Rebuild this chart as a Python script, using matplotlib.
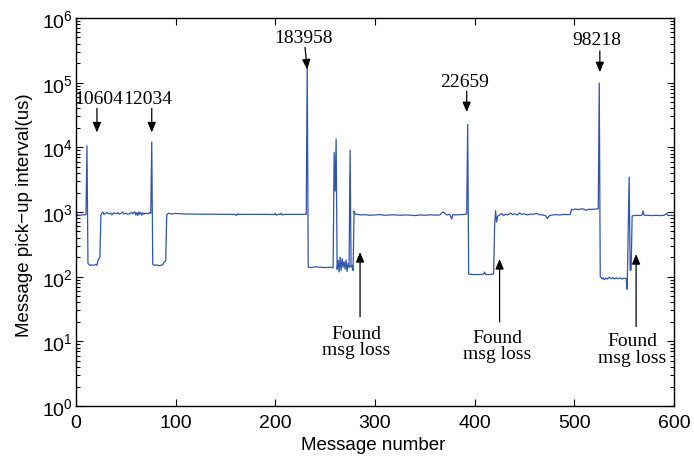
import numpy as np
import matplotlib
matplotlib.use("Agg")
import matplotlib.pyplot as plt
from matplotlib.ticker import LogLocator, LogFormatterMathtext, NullFormatter

plt.rcParams['font.family'] = ['Liberation Sans', 'DejaVu Sans']
plt.rcParams['mathtext.fontset'] = 'custom'
plt.rcParams['mathtext.rm'] = 'Liberation Sans'
plt.rcParams['mathtext.it'] = 'Liberation Sans'

# message number / pick-up interval (us)
msg = [0, 2, 4, 6, 8, 10, 11,
       12, 14, 16, 18, 20, 21, 22, 23, 24, 25,
       26, 27, 28, 30, 31, 33, 35, 36, 38, 40, 42, 43, 45, 47, 48, 50, 52, 54, 56, 57,
       59, 60, 61, 62, 63, 64, 65, 66, 67, 68, 70, 72, 74, 75, 76,
       77, 79, 81, 83, 85, 87, 88, 89, 90, 91,
       93, 96, 100, 105, 110, 118, 125, 135, 145, 155, 160, 161, 162, 163, 175, 190,
       199, 200, 201, 203, 205, 206, 207, 209, 220, 231, 232,
       233, 236, 240, 245, 250, 255, 258,
       259, 260, 261, 262, 263, 264, 265, 266, 267, 268, 269, 270, 271, 272, 273, 274,
       275, 276, 277, 278, 279, 280,
       282, 286, 290, 295, 300, 305, 310, 315, 320, 325, 330, 335, 340, 345, 350, 355,
       360, 365, 368, 370, 372, 375, 377, 378, 380, 385, 390, 392, 393,
       394, 398, 402, 406, 409, 410, 411, 415, 419,
       420, 421, 422, 423,
       425, 427, 429, 431, 433, 436, 438, 440, 443, 445, 447, 450, 453, 456, 459, 462,
       465, 468, 471, 473, 475, 478, 482, 486, 490, 494, 496,
       497, 499, 501, 503, 505, 508, 510, 512, 514, 518, 521, 524, 525,
       526, 528, 529, 530, 532, 533, 535, 537, 539, 540, 542, 544, 546, 548, 550, 552,
       553, 555, 556, 557, 558,
       560, 563, 566, 568, 569, 570, 574, 578, 582, 586, 590, 593, 594, 597, 600]
interval = [920, 900, 880, 910, 900, 920, 10604,
            160, 150, 152, 150, 155, 150, 175, 190, 200, 900,
            960, 1000, 920, 950, 990, 940, 960, 900, 970, 940, 980, 930, 950, 1000, 930, 960, 920, 950, 990, 940,
            1010, 900, 980, 880, 1000, 920, 990, 890, 970, 930, 960, 940, 980, 950, 12034,
            155, 150, 152, 148, 150, 152, 165, 170, 175, 900,
            960, 930, 950, 940, 930, 930, 925, 925, 920, 920, 915, 880, 940, 920, 920, 920,
            915, 950, 890, 930, 920, 960, 900, 920, 920, 920, 183958,
            140, 138, 142, 140, 138, 140, 138,
            8300, 2100, 13400, 130, 180, 118, 200, 125, 190, 140, 170, 130, 180, 120, 160, 140,
            9100, 140, 150, 125, 1040, 930,
            920, 900, 910, 890, 900, 910, 890, 900, 905, 890, 900, 895, 880, 900, 890, 905,
            895, 900, 1000, 960, 900, 920, 780, 910, 900, 910, 920, 930, 22659,
            110, 108, 108, 108, 110, 118, 108, 108, 110,
            600, 1050, 700, 860,
            900, 950, 880, 930, 900, 960, 910, 940, 900, 970, 920, 940, 900, 930, 920, 950,
            910, 900, 880, 790, 880, 900, 910, 900, 920, 910, 920,
            1100, 1080, 1120, 1090, 1100, 1120, 1100, 1060, 1100, 1100, 1110, 1120, 98218,
            100, 92, 96, 90, 95, 92, 98, 93, 97, 92, 96, 93, 96, 92, 95, 94,
            64, 3460, 125, 130, 870,
            880, 890, 880, 900, 1040, 890, 890, 880, 890, 880, 890, 950, 880, 890, 880]

x_ticks = [0, 100, 200, 300, 400, 500, 600]
y_ticks = [1, 10, 100, 1e3, 1e4, 1e5, 1e6]

# peak labels: text, text position, arrow start (top) and tip
peak_labels = ['10604', '12034', '183958', '22659', '98218']
peak_text_x = [23, 72, 228, 390, 522.6]
peak_text_y = [5.6e4, 5.6e4, 5.0e5, 1.05e5, 4.7e5]
peak_arrow_from = [(21, 4.0e4), (76, 4.0e4), (229.8, 3.5e5), (392, 7.4e4), (525.6, 3.1e5)]
peak_arrow_to = [(21, 1.7e4), (76, 1.7e4), (232, 1.6e5), (392, 3.5e4), (525.6, 1.45e5)]

# "Found msg loss" notes
loss_text_x = [281, 423, 558]
loss_text_y = [10.0, 8.7, 7.6]
loss_arrow_from = [(285, 24), (425, 20), (562, 17)]
loss_arrow_to = [(285, 240), (425, 187), (562, 223)]

fig = plt.figure(figsize=(6.94, 4.64), dpi=100)
ax = fig.add_axes([76 / 694, 57 / 464, 598 / 694, 388 / 464])

ax.plot(msg, interval, color='#2f54b4', lw=0.9)
ax.set_yscale('log')
ax.set_xlim(0, 600)
ax.set_ylim(1, 1e6)
ax.set_xticks(x_ticks)
ax.set_yticks(y_ticks)
ax.yaxis.set_major_formatter(LogFormatterMathtext())
ax.yaxis.set_minor_locator(LogLocator(base=10, subs=np.arange(2, 10), numticks=20))
ax.yaxis.set_minor_formatter(NullFormatter())

ax.tick_params(which='both', direction='in', top=True, right=True, labelsize=14, width=0.8)
ax.tick_params(which='major', length=5)
ax.tick_params(which='minor', length=3)
ax.tick_params(axis='x', pad=5.5)
ax.tick_params(axis='y', pad=2.5)
for s in ax.spines.values():
    s.set_linewidth(1.0)

ax.set_xlabel('Message number', fontsize=13.5)
ax.set_ylabel('Message pick\u2212up interval(us)', fontsize=13.5)
ax.xaxis.set_label_coords(0.497, -0.077)
ax.xaxis.label.set_va('top')
ax.yaxis.set_label_coords(-0.072, 0.494)

arrow_style = dict(arrowstyle='-|>,head_length=0.6,head_width=0.25', color='k',
                   lw=0.9, shrinkA=0, shrinkB=0, mutation_scale=10)

for lab, tx, ty in zip(peak_labels, peak_text_x, peak_text_y):
    ax.text(tx, ty, lab, ha='center', va='center', fontsize=14, family='Liberation Serif')
for a, b in zip(peak_arrow_from, peak_arrow_to):
    ax.annotate('', xy=b, xytext=a, arrowprops=arrow_style)

for tx, ty in zip(loss_text_x, loss_text_y):
    ax.text(tx, ty, 'Found\nmsg loss', ha='center', va='center', fontsize=14,
            family='Liberation Serif', linespacing=0.95)
for a, b in zip(loss_arrow_from, loss_arrow_to):
    ax.annotate('', xy=b, xytext=a, arrowprops=arrow_style)

fig.savefig('out.png', dpi=100)
